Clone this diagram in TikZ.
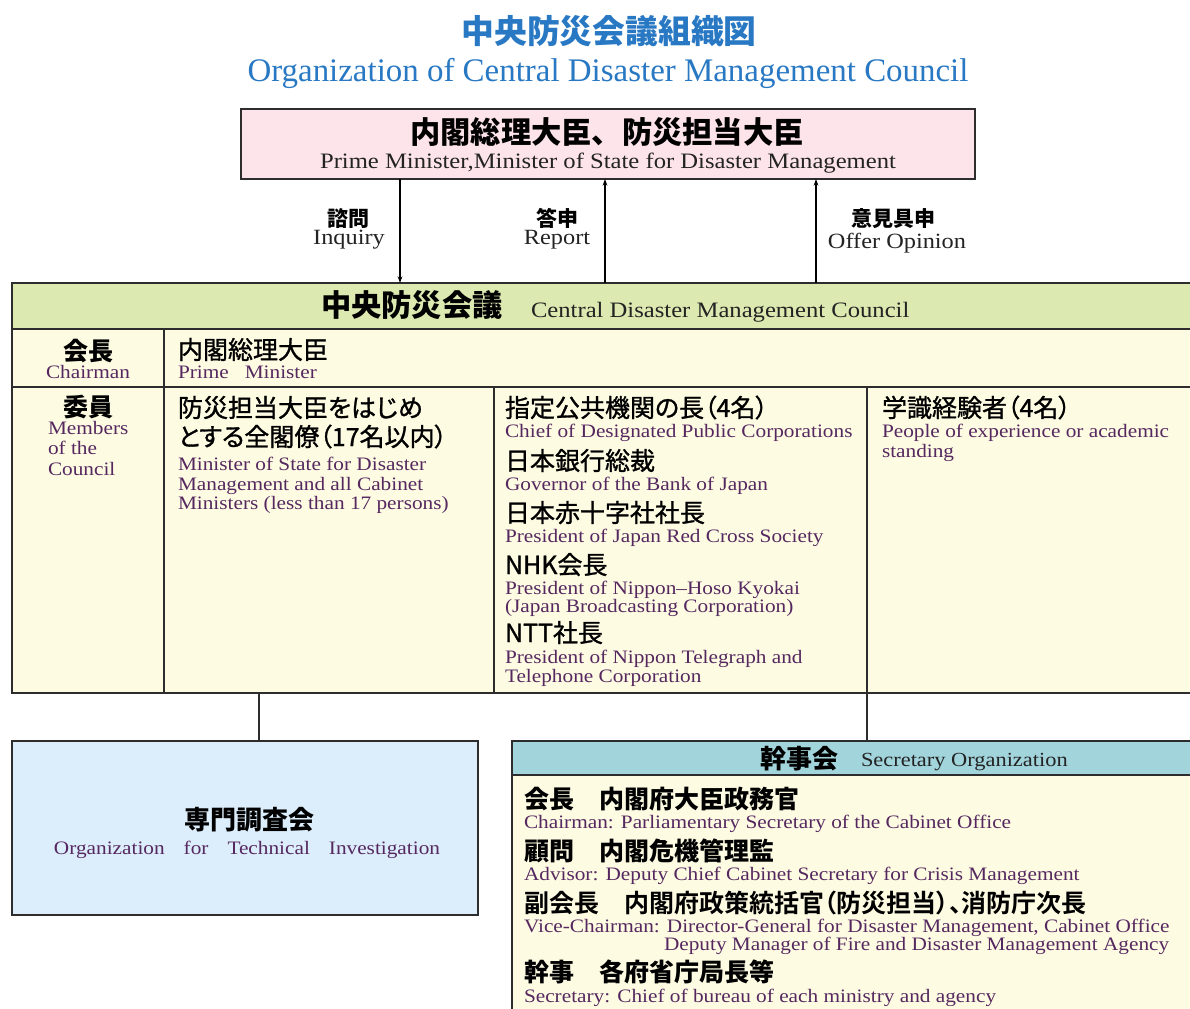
\documentclass[tikz,border=0pt]{standalone}
\usepackage{fontspec}
\setmainfont{Liberation Serif}
\newfontfamily\enw{Liberation Serif}[FakeStretch=1.12]
\newfontfamily\jp{Noto Sans CJK JP}
\newfontfamily\jpm{Noto Sans CJK JP}[FakeBold=1.2]
\newfontfamily\jpp{Noto Sans CJK JP}[FakeBold=1.2,RawFeature=+palt]
\newfontfamily\jpbp{Noto Sans CJK JP Bold}[RawFeature=+palt]
\usetikzlibrary{arrows.meta,fit}
\definecolor{ttl}{RGB}{40,120,195}
\definecolor{en}{RGB}{85,40,95}
\definecolor{ink}{RGB}{35,35,35}
\definecolor{pinkf}{RGB}{252,228,234}
\definecolor{greenf}{RGB}{220,233,176}
\definecolor{creamf}{RGB}{254,251,227}
\definecolor{bluef}{RGB}{220,237,251}
\definecolor{tealf}{RGB}{162,212,220}
\definecolor{edge}{RGB}{45,45,45}
\tikzset{
  bx/.style={draw=edge, line width=1.1pt, inner sep=0pt, outer sep=0pt},
  txt/.style={inner sep=0pt, outer sep=0pt},
  jtitle/.style={txt, text=ttl, font=\jp\bfseries\fontsize{24.6pt}{28pt}\selectfont},
  etitle/.style={txt, text=ttl, font=\fontsize{24.7pt}{28pt}\selectfont},
  jhead/.style={txt, text=black, font=\jp\bfseries\fontsize{22.7pt}{26pt}\selectfont},
  jsub/.style={txt, text=black, font=\jp\bfseries\fontsize{19.5pt}{22pt}\selectfont},
  ebox/.style={txt, text=ink, font=\enw\fontsize{16.5pt}{18pt}\selectfont},
  jcell/.style={txt, text=black, font=\jpm\fontsize{18.75pt}{22pt}\selectfont},
  jcellp/.style={txt, text=black, font=\jpp\fontsize{18.75pt}{22pt}\selectfont},
  jcellb/.style={txt, text=black, font=\jp\bfseries\fontsize{18.75pt}{22pt}\selectfont},
  jcellbp/.style={txt, text=black, font=\jpbp\fontsize{18.75pt}{22pt}\selectfont},
  ecell/.style={txt, text=en, font=\enw\fontsize{14.25pt}{15pt}\selectfont},
  jlab/.style={txt, text=black, font=\jp\bfseries\fontsize{15.75pt}{18pt}\selectfont},
  elab/.style={txt, text=ink, font=\enw\fontsize{16.3pt}{18pt}\selectfont},
  arr/.style={draw=black, line width=0.8pt, -{Stealth[length=5pt,width=3.5pt]}},
  link/.style={draw=edge, line width=1.1pt},
}
\begin{document}
\begin{tikzpicture}[x=0.75pt,y=-0.75pt]
\useasboundingbox (0,0) rectangle (1190,1009);
\clip (0,0) rectangle (1190,1009);
\fill[white] (0,0) rectangle (1190,1009);

% title
\node[jtitle, anchor=base] (t1) at (609,44) {中央防災会議組織図};
\node[etitle, anchor=base] (t2) at (608,82) {Organization of Central Disaster Management Council};

% top box
\node[bx, fill=pinkf, fit={(241,109) (975,179)}] (top) {};
\node[jhead, anchor=base] (pmj) at (607,144) {内閣総理大臣、防災担当大臣};
\node[ebox, anchor=base] (pme) at (608,169) {Prime Minister,Minister of State for Disaster Management};

% council
\node[bx, fill=greenf, fit={(12,283) (1200,329)}] (council) {};
\node[bx, fill=creamf, fit={(12,329) (164,387)}] (c11) {};
\node[bx, fill=creamf, fit={(164,329) (1200,387)}] (c12) {};
\node[bx, fill=creamf, fit={(12,387) (164,693)}] (c21) {};
\node[bx, fill=creamf, fit={(164,387) (494,693)}] (c22) {};
\node[bx, fill=creamf, fit={(494,387) (867,693)}] (c23) {};
\node[bx, fill=creamf, fit={(867,387) (1200,693)}] (c24) {};

\node[jhead, anchor=base west] (cdj) at (321,317) {中央防災会議};
\node[ebox, anchor=base west] (cde) at (531,318) {Central Disaster Management Council};

% arrows
\coordinate (a1) at (400,0);
\coordinate (a2) at (605,0);
\coordinate (a3) at (816,0);
\draw[arr] (top.south -| a1) -- (a1 |- council.north);
\draw[arr] (a2 |- council.north) -- (top.south -| a2);
\draw[arr] (a3 |- council.north) -- (top.south -| a3);
\node[jlab, anchor=base] (l1j) at (348,227) {諮問};
\node[elab, anchor=base] (l1e) at (349,245) {Inquiry};
\node[jlab, anchor=base] (l2j) at (557,227) {答申};
\node[elab, anchor=base] (l2e) at (557,245) {Report};
\node[jlab, anchor=base] (l3j) at (893,227) {意見具申};
\node[elab, anchor=base] (l3e) at (897,249) {Offer Opinion};

% row 1
\node[jcellb, anchor=base] (r1a) at (88,361) {会長};
\node[ecell, anchor=base] (r1b) at (88,379) {Chairman};
\node[jcell, anchor=base west] (r1c) at (178,359) {内閣総理大臣};
\node[ecell, anchor=base west] (r1d) at (178,379) {Prime\ \ \ Minister};

% row 2 col 1
\node[jcellb, anchor=base] (m0) at (88,417) {委員};
\node[ecell, anchor=base west] (m1) at (48,435) {Members};
\node[ecell, anchor=base west] (m2) at (48,455) {of the};
\node[ecell, anchor=base west] (m3) at (48,475) {Council};

% col 2
\node[jcellp, anchor=base west] (b1) at (178,417) {防災担当大臣をはじめ};
\node[jcellp, anchor=base west] (b2) at (178,446) {とする全閣僚（17名以内）};
\node[ecell, anchor=base west] (b3) at (178,470) {Minister of State for Disaster};
\node[ecell, anchor=base west] (b4) at (178,490) {Management and all Cabinet};
\node[ecell, anchor=base west] (b5) at (178,509) {Ministers (less than 17 persons)};

% col 3
\node[jcellp, anchor=base west] (d1) at (505,417) {指定公共機関の長（4名）};
\node[ecell, anchor=base west] (d2) at (505,438) {Chief of Designated Public Corporations};
\node[jcell, anchor=base west] (d3) at (505,470) {日本銀行総裁};
\node[ecell, anchor=base west] (d4) at (505,490) {Governor of the Bank of Japan};
\node[jcell, anchor=base west] (d5) at (505,522) {日本赤十字社社長};
\node[ecell, anchor=base west] (d6) at (505,542) {President of Japan Red Cross Society};
\node[jcell, anchor=base west] (d7) at (505,574) {NHK会長};
\node[ecell, anchor=base west] (d8) at (505,594) {President of Nippon–Hoso Kyokai};
\node[ecell, anchor=base west] (d9) at (505,612) {(Japan Broadcasting Corporation)};
\node[jcell, anchor=base west] (d10) at (505,642) {NTT社長};
\node[ecell, anchor=base west] (d11) at (505,663) {President of Nippon Telegraph and};
\node[ecell, anchor=base west] (d12) at (505,682) {Telephone Corporation};

% col 4
\node[jcellp, anchor=base west] (g1) at (882,417) {学識経験者（4名）};
\node[ecell, anchor=base west] (g2) at (882,438) {People of experience or academic};
\node[ecell, anchor=base west] (g3) at (882,458) {standing};

% technical investigation box
\node[bx, fill=bluef, fit={(12,741) (478,915)}] (tech) {};
\node[jsub, anchor=base] (tj) at (249,829) {専門調査会};
\node[ecell, anchor=base] (te) at (247,854) {Organization\quad for\quad Technical\quad Investigation};

% secretary box
\node[bx, fill=creamf, fit={(512,741) (1200,1020)}] (sec) {};
\node[bx, fill=tealf, fit={(512,741) (1200,775)}] (sech) {};
\node[jsub, anchor=base west] (shj) at (760,768) {幹事会};
\node[ebox, font=\enw\fontsize{15pt}{18pt}\selectfont, anchor=base west] (she) at (861,766) {Secretary Organization};

\node[jcellb, anchor=base west] (s1) at (524,808) {会長　内閣府大臣政務官};
\node[ecell, anchor=base west] (s2) at (524,828) {Chairman: Parliamentary Secretary of the Cabinet Office};
\node[jcellb, anchor=base west] (s3) at (524,860) {顧問　内閣危機管理監};
\node[ecell, anchor=base west] (s4) at (524,880) {Advisor: Deputy Chief Cabinet Secretary for Crisis Management};
\node[jcellbp, anchor=base west] (s5) at (524,912) {副会長\hspace{19pt}内閣府政策統括官（防災担当）、消防庁次長};
\node[ecell, anchor=base west] (s6) at (524,932) {Vice-Chairman: Director-General for Disaster Management, Cabinet Office};
\node[ecell, anchor=base west] (s7) at (664,950) {Deputy Manager of Fire and Disaster Management Agency};
\node[jcellb, anchor=base west] (s8) at (524,981) {幹事　各府省庁局長等};
\node[ecell, anchor=base west] (s9) at (524,1002) {Secretary: Chief of bureau of each ministry and agency};

% connectors
\coordinate (j1) at (259,0);
\coordinate (j2) at (867,0);
\draw[link] (c22.south -| j1) -- (tech.north -| j1);
\draw[link] (c24.south west) -- (sec.north -| j2);
\end{tikzpicture}
\end{document}
